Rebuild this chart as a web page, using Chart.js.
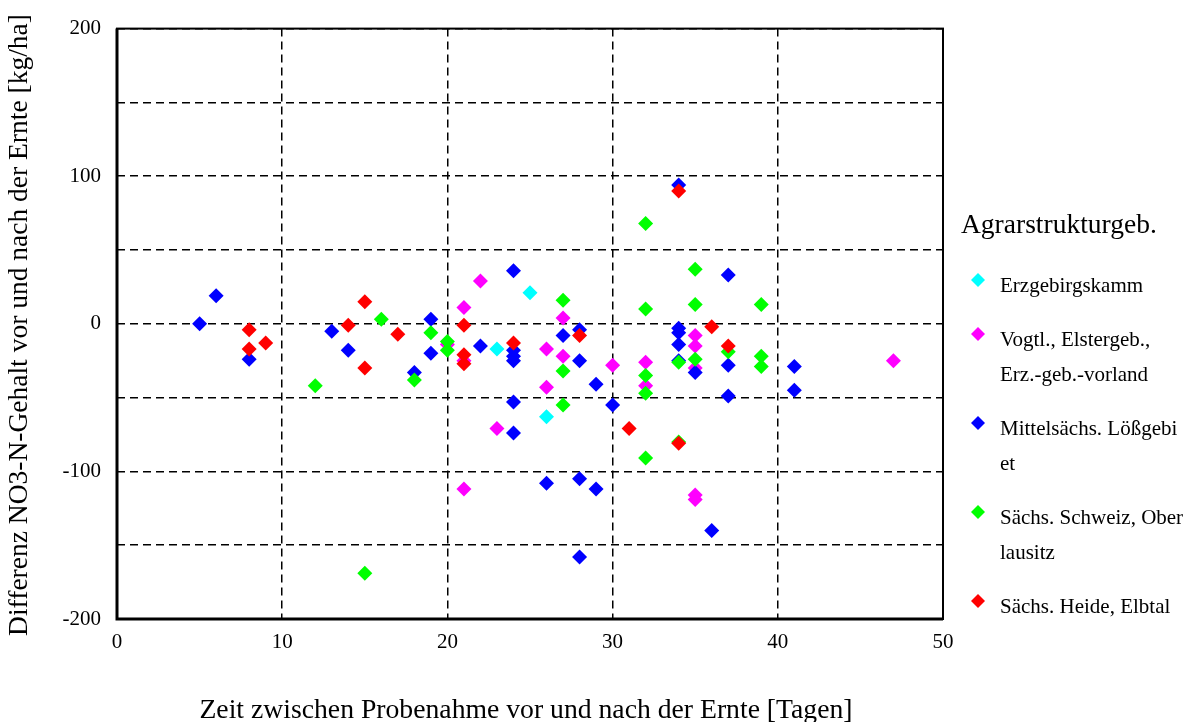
<!DOCTYPE html>
<html>
<head>
<meta charset="utf-8">
<script src="https://cdn.jsdelivr.net/npm/chart.js@4/dist/chart.umd.min.js"></script>
<style>
  html, body { margin: 0; padding: 0; background: #fff; }
</style>
</head>
<body>
<canvas id="grafica" width="1189" height="722"></canvas>
<script>
// Agrarstrukturgebiete (Legende) und Farben
var gebiete = ['Erzgebirgskamm', 'Vogtl., Elstergeb., Erz.-geb.-vorland', 'Mittelsächs. Lößgebiet', 'Sächs. Schweiz, Oberlausitz', 'Sächs. Heide, Elbtal'];
var gebieteZeilen = [
  ['Erzgebirgskamm'],
  ['Vogtl., Elstergeb.,', 'Erz.-geb.-vorland'],
  ['Mittelsächs. Lößgebi', 'et'],
  ['Sächs. Schweiz, Ober', 'lausitz'],
  ['Sächs. Heide, Elbtal']
];
var farben = ['#00ffff', '#ff00ff', '#0000ff', '#00ff00', '#ff0000'];

// Tage zwischen Probenahmen / Differenz NO3-N [kg/ha]
var erzTage = [23, 25, 26];
var erzDiff = [-17, 21, -63];

var vogtTage = [20, 21, 21, 21, 22, 23, 26, 26, 27, 27, 30, 32, 32, 35, 35, 35, 35, 35, 47];
var vogtDiff = [-14, 11, -25, -112, 29, -71, -17, -43, 4, -22, -28, -26, -42, -8, -15, -30, -116, -119, -25];

var mittelTage = [5, 6, 8, 13, 14, 18, 19, 19, 22, 24, 24, 24, 24, 24, 24, 26, 27, 28, 28, 28, 28, 29, 29, 30, 34, 34, 34, 34, 34, 35, 36, 37, 37, 37, 41, 41];
var mittelDiff = [0, 19, -24, -5, -18, -33, 3, -20, -15, 36, -18, -22, -25, -53, -74, -108, -8, -4, -25, -105, -158, -41, -112, -55, 94, -3, -6, -14, -25, -33, -140, 33, -28, -49, -29, -45];

var schweizTage = [12, 15, 16, 18, 19, 20, 20, 27, 27, 27, 32, 32, 32, 32, 32, 34, 34, 35, 35, 35, 37, 39, 39, 39];
var schweizDiff = [-42, -169, 3, -38, -6, -12, -18, 16, -32, -55, 68, 10, -35, -47, -91, -26, -80, 37, 13, -24, -19, 13, -22, -29];

var heideTage = [8, 8, 9, 14, 15, 15, 17, 21, 21, 21, 24, 28, 31, 34, 34, 36, 37];
var heideDiff = [-4, -17, -13, -1, 15, -30, -7, -1, -21, -27, -13, -8, -71, 90, -81, -2, -15];

var xTicks = [0, 10, 20, 30, 40, 50];
var yTicks = [-200, -100, 0, 100, 200];

var schrift = '"Liberation Serif", "Times New Roman", serif';

function punkte(tage, diff){
  var d = [];
  for (var i = 0; i < tage.length; i++) d.push({x: tage[i], y: diff[i]});
  return d;
}

var reihen = [
  punkte(erzTage, erzDiff),
  punkte(vogtTage, vogtDiff),
  punkte(mittelTage, mittelDiff),
  punkte(schweizTage, schweizDiff),
  punkte(heideTage, heideDiff)
];

var datasets = [];
for (var i = 0; i < reihen.length; i++) {
  datasets.push({
    label: gebiete[i],
    data: reihen[i],
    backgroundColor: farben[i],
    borderColor: farben[i],
    borderWidth: 0,
    pointStyle: 'rectRot',
    pointRadius: 7.5,
    pointHoverRadius: 7.5,
    order: reihen.length - i   // rot oben
  });
}

function raute(ctx, x, y, r, farbe){
  ctx.beginPath();
  ctx.moveTo(x, y - r);
  ctx.lineTo(x + r, y);
  ctx.lineTo(x, y + r);
  ctx.lineTo(x - r, y);
  ctx.closePath();
  ctx.fillStyle = farbe;
  ctx.fill();
}

// Rahmen, Achsentitel und Legende
var beschriftung = {
  id: 'beschriftung',
  beforeDatasetsDraw: function(chart){
    var ctx = chart.ctx, a = chart.chartArea;
    ctx.save();
    ctx.strokeStyle = '#000';
    ctx.lineWidth = 2;
    ctx.strokeRect(a.left, a.top, a.right - a.left, a.bottom - a.top);
    ctx.lineWidth = 3;
    ctx.beginPath();
    ctx.moveTo(a.left, a.top);
    ctx.lineTo(a.left, a.bottom);
    ctx.lineTo(a.right, a.bottom);
    ctx.stroke();
    ctx.restore();
  },
  afterDraw: function(chart){
    var ctx = chart.ctx;
    ctx.save();
    ctx.fillStyle = '#000';
    ctx.textAlign = 'center';
    ctx.textBaseline = 'alphabetic';
    ctx.font = '27.7px ' + schrift;
    ctx.fillText('Zeit zwischen Probenahme vor und nach der Ernte [Tagen]', 526, 718);

    ctx.save();
    ctx.font = '27.5px ' + schrift;
    ctx.translate(27, 325);
    ctx.rotate(-Math.PI / 2);
    ctx.fillText('Differenz NO3-N-Gehalt vor und nach der Ernte [kg/ha]', 0, 0);
    ctx.restore();

    ctx.textAlign = 'left';
    ctx.font = '27.5px ' + schrift;
    ctx.fillText('Agrarstrukturgeb.', 961, 233);

    ctx.font = '21px ' + schrift;
    var y = 292;
    for (var i = 0; i < gebieteZeilen.length; i++) {
      raute(ctx, 978, y - 12, 7, farben[i]);
      ctx.fillStyle = '#000';
      for (var j = 0; j < gebieteZeilen[i].length; j++) {
        ctx.fillText(gebieteZeilen[i][j], 1000, y);
        if (j < gebieteZeilen[i].length - 1) y += 35;
      }
      y += 54;
    }
    ctx.restore();
  }
};

var ctx = document.getElementById('grafica');

var grafica = new Chart(ctx, {
  type: 'scatter',
  data: { datasets: datasets },
  plugins: [beschriftung],
  options: {
    responsive: false,
    animation: false,
    devicePixelRatio: 1,
    layout: { autoPadding: false, padding: { top: 26, right: 246, left: 0, bottom: 0 } },
    plugins: { legend: { display: false }, tooltip: { enabled: false } },
    scales: {
      x: {
        type: 'linear',
        min: 0, max: 50,
        afterFit: function(s){ s.height = 103; },
        afterBuildTicks: function(s){ s.ticks = xTicks.map(function(v){ return {value: v}; }); },
        ticks: { color: '#000', font: { family: schrift, size: 21 }, padding: 11, maxRotation: 0 },
        grid: { color: '#000', lineWidth: 1.5, drawTicks: false },
        border: { display: false, dash: [8, 5] }
      },
      y: {
        type: 'linear',
        min: -200, max: 200,
        afterFit: function(s){ s.width = 117; },
        ticks: {
          stepSize: 50,
          color: '#000',
          font: { family: schrift, size: 21 },
          padding: 16,
          callback: function(v){ return yTicks.indexOf(v) >= 0 ? v : ''; }
        },
        grid: { color: '#000', lineWidth: 1.5, drawTicks: false },
        border: { display: false, dash: [8, 5] }
      }
    }
  }
});
</script>
</body>
</html>
